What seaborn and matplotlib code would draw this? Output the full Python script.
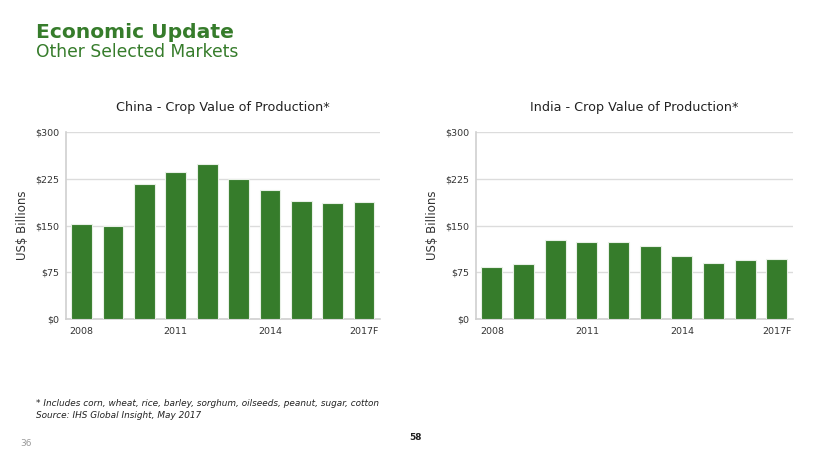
import matplotlib
matplotlib.use("Agg")
import matplotlib.pyplot as plt
import seaborn as sns
import pandas as pd

years = ["2008", "2009", "2010", "2011", "2012", "2013", "2014", "2015", "2016", "2017F"]
china_values = [152, 150, 217, 236, 249, 225, 207, 190, 187, 188]
india_values = [84, 88, 127, 124, 123, 117, 101, 90, 94, 96]
shown_ticks = ["2008", "2011", "2014", "2017F"]
y_ticks = [0, 75, 150, 225, 300]
y_tick_labels = ["$0", "$75", "$150", "$225", "$300"]

GREEN = "#367c2b"
TITLE_GREEN = "#367c2b"

sns.set_theme(style="white")
plt.rcParams["font.family"] = ["DejaVu Sans"]

fig = plt.figure(figsize=(8.3, 4.67), dpi=100)

def draw(ax, values, title):
    df = pd.DataFrame({"year": years, "value": values})
    sns.barplot(data=df, x="year", y="value", color=GREEN, saturation=1,
                width=0.66, edgecolor="#e8f0e6", linewidth=0.8, ax=ax, zorder=3)
    ax.set_ylim(0, 300)
    ax.set_xlim(-0.5, len(years) - 0.5)
    ax.set_yticks(y_ticks)
    ax.set_yticklabels(y_tick_labels)
    idx = [years.index(t) for t in shown_ticks]
    ax.set_xticks(idx)
    ax.set_xticklabels(shown_ticks)
    ax.tick_params(axis="both", length=0, labelsize=6.8, colors="#333333")
    ax.tick_params(axis="x", pad=6)
    ax.tick_params(axis="y", pad=5)
    ax.yaxis.grid(True, color="#dcdcdc", linewidth=1.0, zorder=0)
    ax.set_axisbelow(True)
    for s in ["top", "right"]:
        ax.spines[s].set_visible(False)
    for s in ["left", "bottom"]:
        ax.spines[s].set_color("#d0d0d0")
        ax.spines[s].set_linewidth(1.2)
    ax.set_xlabel("")
    ax.set_ylabel("US$ Billions", fontsize=8.5, color="#333333", labelpad=4)
    ax.set_title(title, fontsize=9.2, color="#222222", pad=15)

ax1 = fig.add_axes([0.0795, 0.317, 0.378, 0.400])
ax2 = fig.add_axes([0.5735, 0.317, 0.3815, 0.400])
draw(ax1, china_values, "China - Crop Value of Production*")
draw(ax2, india_values, "India - Crop Value of Production*")

fig.text(36/830, 1-32/467, "Economic Update", fontsize=14.6, fontweight="bold",
         color=TITLE_GREEN, va="center", ha="left")
fig.text(36/830, 1-52/467, "Other Selected Markets", fontsize=12.3,
         color=TITLE_GREEN, va="center", ha="left")
fig.text(36/830, 1-404/467,
         "* Includes corn, wheat, rice, barley, sorghum, oilseeds, peanut, sugar, cotton",
         fontsize=6.4, style="italic", color="#222222", va="center", ha="left")
fig.text(36/830, 1-415/467, "Source: IHS Global Insight, May 2017",
         fontsize=6.4, style="italic", color="#222222", va="center", ha="left")
fig.text(20/830, 1-444/467, "36", fontsize=6.5, color="#999999", va="center", ha="left")
fig.text(415/830, 1-437/467, "58", fontsize=6.5, fontweight="bold", color="#222222",
         va="center", ha="center")

fig.savefig("out.png", dpi=100)
